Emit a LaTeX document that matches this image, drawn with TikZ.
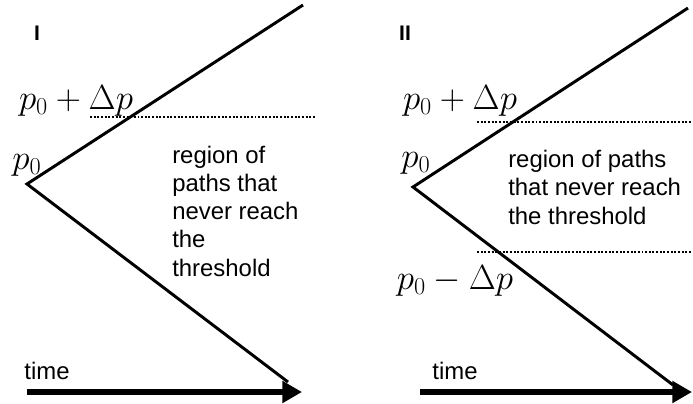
\documentclass[tikz,border=0pt]{standalone}
\usepackage{amsmath,amssymb}
\usepackage{fontspec}
\setsansfont{Liberation Sans}
\usepackage{tikz}
\usetikzlibrary{arrows.meta,positioning}

\begin{document}
\begin{tikzpicture}[x=0.025cm,y=-0.025cm,
    branch/.style={line width=2.1pt},
    thresh/.style={line width=2pt,dash pattern=on 1.4pt off 1.2pt},
    timearrow/.style={line width=4pt,-{Triangle[length=14pt,width=15pt]}},
    mlabel/.style={font=\fontsize{24}{28}\selectfont},
    tlabel/.style={font=\sffamily\fontsize{17}{20}\selectfont,align=left,inner sep=0pt},
    plabel/.style={font=\sffamily\bfseries\fontsize{15}{18}\selectfont}]
  \useasboundingbox (0,0) rectangle (693,403);
  % panel I
  \node[plabel] (L1) at (37,33) {I};
  \coordinate (V1) at (27,184);
  \coordinate (U1) at (303,5);
  \coordinate (D1) at (288,382);
  \draw[branch] (U1) -- (V1) -- (D1);
  \node[mlabel] (P1) at (27,165) {$p_0$};
  \node[mlabel] (Pp1) at (76,101) {$p_0+\Delta p$};
  \coordinate (H1a) at (90,117);
  \coordinate (H1b) at (315,117);
  \draw[thresh] (H1a) -- (H1b);
  \node[tlabel,anchor=base west] (R1) at (172,276)
    {region of\\paths that\\never reach\\the\\threshold};
  \node[tlabel] (T1) at (47,371) {time};
  \coordinate (A1a) at (27,392);
  \coordinate (A1b) at (302,392);
  \draw[timearrow] (A1a) -- (A1b);
  % panel II
  \node[plabel] (L2) at (405,33) {II};
  \coordinate (V2) at (413,187);
  \coordinate (U2) at (688,8);
  \coordinate (D2) at (673,385);
  \draw[branch] (U2) -- (V2) -- (D2);
  \node[mlabel] (P2) at (416,163) {$p_0$};
  \node[mlabel] (Pp2) at (460,101) {$p_0+\Delta p$};
  \node[mlabel] (Pm2) at (455,281) {$p_0-\Delta p$};
  \coordinate (H2a) at (477,122);
  \coordinate (H2b) at (693,122);
  \draw[thresh] (H2a) -- (H2b);
  \coordinate (H3a) at (477,252);
  \coordinate (H3b) at (693,252);
  \draw[thresh] (H3a) -- (H3b);
  \node[tlabel,anchor=base west] (R2) at (508,224)
    {region of paths\\that never reach\\the threshold};
  \node[tlabel] (T2) at (455,371) {time};
  \coordinate (A2a) at (420,392);
  \coordinate (A2b) at (692,392);
  \draw[timearrow] (A2a) -- (A2b);
\end{tikzpicture}
\end{document}
